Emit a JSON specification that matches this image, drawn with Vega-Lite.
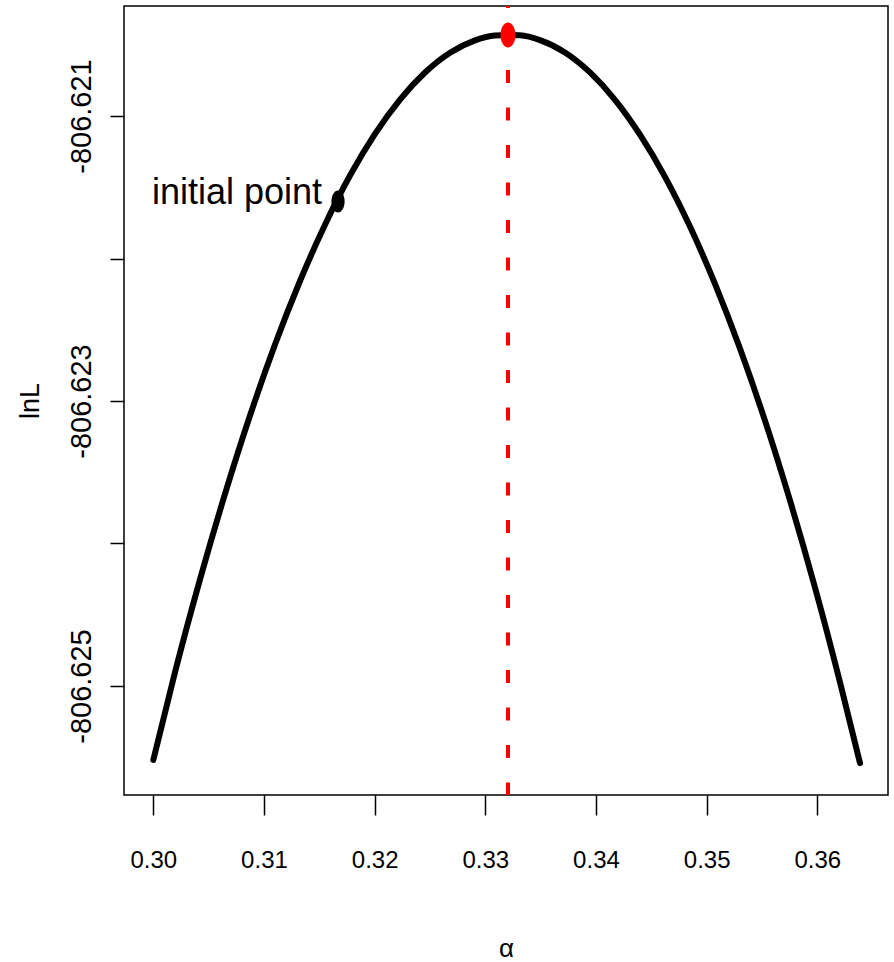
{
  "$schema": "https://vega.github.io/schema/vega-lite/v6.json",
  "width": 764,
  "height": 789,
  "autosize": "none",
  "padding": {"left": 124, "top": 6, "right": 6, "bottom": 167},
  "background": "white",
  "config": {
    "view": {"stroke": "black", "strokeWidth": 1.5},
    "axis": {"grid": false, "domain": false, "tickColor": "black", "tickWidth": 1.5, "labelColor": "black", "titleColor": "black", "titleFontWeight": "normal"}
  },
  "datasets": {
    "curve": [
      {"alpha": 0.300000, "lnL": -806.625519},
      {"alpha": 0.301961, "lnL": -806.624903},
      {"alpha": 0.304220, "lnL": -806.624252},
      {"alpha": 0.306479, "lnL": -806.623652},
      {"alpha": 0.308738, "lnL": -806.623102},
      {"alpha": 0.310997, "lnL": -806.622604},
      {"alpha": 0.313256, "lnL": -806.622158},
      {"alpha": 0.315515, "lnL": -806.621763},
      {"alpha": 0.317774, "lnL": -806.621418},
      {"alpha": 0.320033, "lnL": -806.621126},
      {"alpha": 0.322292, "lnL": -806.620885},
      {"alpha": 0.324550, "lnL": -806.620695},
      {"alpha": 0.326809, "lnL": -806.620556},
      {"alpha": 0.329068, "lnL": -806.620469},
      {"alpha": 0.330875, "lnL": -806.620435},
      {"alpha": 0.332050, "lnL": -806.620432},
      {"alpha": 0.333134, "lnL": -806.620434},
      {"alpha": 0.334941, "lnL": -806.620467},
      {"alpha": 0.337201, "lnL": -806.620554},
      {"alpha": 0.339460, "lnL": -806.620694},
      {"alpha": 0.341719, "lnL": -806.620886},
      {"alpha": 0.343977, "lnL": -806.621131},
      {"alpha": 0.346236, "lnL": -806.621427},
      {"alpha": 0.348495, "lnL": -806.621776},
      {"alpha": 0.350754, "lnL": -806.622178},
      {"alpha": 0.353013, "lnL": -806.622632},
      {"alpha": 0.355272, "lnL": -806.623138},
      {"alpha": 0.357531, "lnL": -806.623698},
      {"alpha": 0.359790, "lnL": -806.624309},
      {"alpha": 0.362049, "lnL": -806.624973},
      {"alpha": 0.363857, "lnL": -806.625541}
    ],
    "initial": [{"alpha": 0.31669, "lnL": -806.621600, "label": "initial point"}],
    "mle": [{"alpha": 0.33205, "lnL": -806.620432}]
  },
  "encoding": {
    "x": {
      "field": "alpha", "type": "quantitative",
      "scale": {"domain": [0.297352, 0.366387], "nice": false, "zero": false},
      "axis": {
        "title": "α", "values": [0.30, 0.31, 0.32, 0.33, 0.34, 0.35, 0.36], "format": ".2f",
        "tickSize": 20, "labelPadding": 45, "labelBaseline": "middle",
        "labelFont": "Liberation Sans, Arial", "labelFontSize": 24,
        "titleFont": "Liberation Sans, Arial", "titleFontSize": 26,
        "titleX": 382, "titleY": 153, "titleBaseline": "middle", "titleAlign": "center"
      }
    },
    "y": {
      "field": "lnL", "type": "quantitative",
      "scale": {"domain": [-806.625765, -806.620228], "nice": false, "zero": false},
      "axis": {
        "title": "lnL", "values": [-806.625, -806.624, -806.623, -806.622, -806.621],
        "labelExpr": "(abs(datum.value + 806.622) < 0.0001 || abs(datum.value + 806.624) < 0.0001) ? '' : '-' + format(-datum.value, '.3f')",
        "tickSize": 14, "labelAngle": -90, "labelAlign": "center", "labelBaseline": "middle", "labelPadding": 29,
        "labelFont": "Liberation Sans, Arial", "labelFontSize": 29,
        "titleFont": "Liberation Sans, Arial", "titleFontSize": 27,
        "titleX": -94, "titleY": 394.5, "titleAngle": -90, "titleBaseline": "middle", "titleAlign": "center"
      }
    }
  },
  "layer": [
    {
      "data": {"name": "curve"},
      "mark": {"type": "line", "color": "black", "strokeWidth": 6, "interpolate": "monotone", "strokeCap": "round"}
    },
    {
      "data": {"name": "mle"},
      "mark": {"type": "rule", "color": "#ff0000", "strokeWidth": 4, "strokeDash": [13, 24.5], "strokeDashOffset": 11},
      "encoding": {"y": null}
    },
    {
      "data": {"name": "mle"},
      "mark": {"type": "point", "filled": true, "color": "#ff0000", "opacity": 1, "size": 625, "shape": "M-0.6,0A0.6,1,0,1,0,0.6,0A0.6,1,0,1,0,-0.6,0Z"}
    },
    {
      "data": {"name": "initial"},
      "mark": {"type": "point", "filled": true, "color": "black", "opacity": 1, "size": 484, "shape": "M-0.6,0A0.6,1,0,1,0,0.6,0A0.6,1,0,1,0,-0.6,0Z"}
    },
    {
      "data": {"name": "initial"},
      "mark": {"type": "text", "align": "right", "baseline": "alphabetic", "dx": -16, "dy": 2, "font": "Liberation Sans, Arial", "fontSize": 36, "color": "black"},
      "encoding": {"text": {"field": "label"}}
    }
  ]
}
